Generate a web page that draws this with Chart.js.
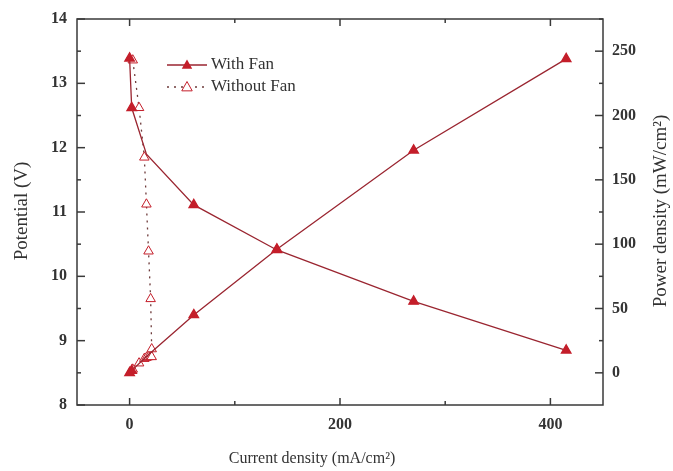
<!DOCTYPE html>
<html>
<head>
<meta charset="utf-8">
<script src="https://cdn.jsdelivr.net/npm/chart.js@4"></script>
<style>
  html, body { margin: 0; padding: 0; background: #fff; }
  #wrap { width: 673px; height: 471px; position: relative; }
</style>
</head>
<body>
<div id="wrap"><canvas id="chart"></canvas></div>
<script>
// current density (mA/cm2), potential (V), power density (mW/cm2)
const currentWithFan = [0, 2, 16, 61, 140, 270, 415];
const potentialWithFan = [13.39, 12.62, 11.9, 11.11, 10.41, 9.61, 8.85];
const powerWithFan = [0, 1.7, 12.7, 45, 96, 173, 244];

const currentWithoutFan = [3, 9, 14, 16, 18, 20, 21];
const potentialWithoutFan = [13.36, 12.62, 11.85, 11.12, 10.39, 9.65, 8.87];
const powerWithoutFan = [2.7, 7.5, 11.0, 11.8, 12.4, 12.8, 12.4];

const xTicks = [0, 200, 400];
const xMinor = [100, 300];
const leftTicks = [8, 9, 10, 11, 12, 13, 14];
const rightTicks = [0, 50, 100, 150, 200, 250];

const seriesNames = ['With Fan', 'Without Fan'];

const RED = '#c41e2a';
const LINE = '#9a2530';
const DOT = '#6e3b3b';

function pts(xs, ys) {
    return xs.map((x, i) => ({x: x, y: ys[i]}));
}

const tickFont = {family: '"Liberation Serif", serif', size: 16, weight: 'bold'};

function line(ctx, x1, y1, x2, y2) {
    ctx.beginPath();
    ctx.moveTo(x1, y1);
    ctx.lineTo(x2, y2);
    ctx.stroke();
}

function triangle(ctx, x, y, r) {
    ctx.beginPath();
    ctx.moveTo(x, y - r);
    ctx.lineTo(x + r * 0.95, y + r * 0.7);
    ctx.lineTo(x - r * 0.95, y + r * 0.7);
    ctx.closePath();
}

const framePlugin = {
    id: 'frame',
    afterDraw(chart) {
        const ctx = chart.ctx;
        const a = chart.chartArea;
        const sx = chart.scales.x, sy = chart.scales.y, sy1 = chart.scales.y1;
        ctx.save();
        ctx.strokeStyle = '#3a3a3a';
        ctx.lineWidth = 1.5;
        ctx.strokeRect(a.left, a.top, a.right - a.left, a.bottom - a.top);

        // inward ticks, x
        xTicks.forEach(v => {
            const p = sx.getPixelForValue(v);
            line(ctx, p, a.bottom, p, a.bottom - 7);
            line(ctx, p, a.top, p, a.top + 7);
        });
        xMinor.forEach(v => {
            const p = sx.getPixelForValue(v);
            line(ctx, p, a.bottom, p, a.bottom - 4);
            line(ctx, p, a.top, p, a.top + 4);
        });
        // left
        leftTicks.forEach(v => {
            const p = sy.getPixelForValue(v);
            line(ctx, a.left, p, a.left + 8, p);
            if (v < 14) {
                const m = sy.getPixelForValue(v + 0.5);
                line(ctx, a.left, m, a.left + 4, m);
            }
        });
        // right
        rightTicks.forEach(v => {
            const p = sy1.getPixelForValue(v);
            line(ctx, a.right, p, a.right - 8, p);
            const m = sy1.getPixelForValue(v + 25);
            line(ctx, a.right, m, a.right - 4, m);
        });

        // axis titles
        ctx.fillStyle = '#333';
        ctx.textAlign = 'center';
        ctx.textBaseline = 'middle';
        ctx.font = '16px "Liberation Serif", serif';
        ctx.fillText('Current density (mA/cm\u00B2)', 312, 459);
        ctx.font = '19px "Liberation Serif", serif';
        ctx.save();
        ctx.translate(22, 211);
        ctx.rotate(-Math.PI / 2);
        ctx.fillText('Potential (V)', 0, 0);
        ctx.restore();
        ctx.save();
        ctx.translate(661, 211);
        ctx.rotate(-Math.PI / 2);
        ctx.fillText('Power density (mW/cm\u00B2)', 0, 0);
        ctx.restore();

        // legend
        const lx = a.left + 90, ly = a.top + 46;
        ctx.lineWidth = 1.3;
        ctx.strokeStyle = LINE;
        line(ctx, lx, ly, lx + 40, ly);
        ctx.fillStyle = RED;
        triangle(ctx, lx + 20, ly, 5.5);
        ctx.fill();
        ctx.strokeStyle = DOT;
        ctx.setLineDash([2, 5]);
        line(ctx, lx, ly + 22, lx + 40, ly + 22);
        ctx.setLineDash([]);
        ctx.fillStyle = '#fff';
        ctx.strokeStyle = RED;
        ctx.lineWidth = 1;
        triangle(ctx, lx + 20, ly + 22, 5.5);
        ctx.fill();
        ctx.stroke();
        ctx.fillStyle = '#333';
        ctx.font = '17px "Liberation Serif", serif';
        ctx.textAlign = 'left';
        ctx.fillText(seriesNames[0], lx + 44, ly);
        ctx.fillText(seriesNames[1], lx + 44, ly + 22);
        ctx.restore();
    }
};

const hideKink = ctx => ctx.dataIndex === 2 ? 0 : 5.5;

const filled = {
    borderColor: LINE,
    borderWidth: 1.3,
    backgroundColor: RED,
    pointBorderColor: RED,
    pointStyle: 'triangle',
    pointRadius: hideKink,
    showLine: true,
    tension: 0
};
const open = {
    borderColor: DOT,
    borderWidth: 1.3,
    borderDash: [2, 5],
    backgroundColor: '#fff',
    pointBorderColor: RED,
    pointBackgroundColor: '#fff',
    pointBorderWidth: 1,
    pointStyle: 'triangle',
    pointRadius: 5.5,
    showLine: true,
    tension: 0
};

new Chart(document.getElementById('chart'), {
    type: 'scatter',
    data: {
        datasets: [
            Object.assign({label: seriesNames[0], data: pts(currentWithFan, potentialWithFan), yAxisID: 'y'}, filled),
            Object.assign({label: seriesNames[0], data: pts(currentWithFan, powerWithFan), yAxisID: 'y1'}, filled),
            Object.assign({label: seriesNames[1], data: pts(currentWithoutFan, potentialWithoutFan), yAxisID: 'y'}, open),
            Object.assign({label: seriesNames[1], data: pts(currentWithoutFan, powerWithoutFan), yAxisID: 'y1'}, open)
        ]
    },
    options: {
        responsive: true,
        maintainAspectRatio: false,
        animation: false,
        layout: {padding: {top: 19, left: 0, right: 0, bottom: 0}},
        plugins: {legend: {display: false}, tooltip: {enabled: false}},
        scales: {
            x: {
                type: 'linear', min: -50, max: 450,
                afterBuildTicks: s => { s.ticks = xTicks.map(v => ({value: v})); },
                afterFit: s => { s.height = 66; },
                grid: {display: false}, border: {display: false},
                ticks: {font: tickFont, color: '#333', padding: 2, maxRotation: 0}
            },
            y: {
                position: 'left', min: 8, max: 14,
                afterBuildTicks: s => { s.ticks = leftTicks.map(v => ({value: v})); },
                afterFit: s => { s.width = 77; },
                grid: {display: false}, border: {display: false},
                ticks: {font: tickFont, color: '#333', padding: 2}
            },
            y1: {
                position: 'right', min: -25, max: 275,
                afterBuildTicks: s => { s.ticks = rightTicks.map(v => ({value: v})); },
                afterFit: s => { s.width = 70; },
                grid: {display: false}, border: {display: false},
                ticks: {font: tickFont, color: '#333', padding: 1}
            }
        }
    },
    plugins: [framePlugin]
});
</script>
</body>
</html>
